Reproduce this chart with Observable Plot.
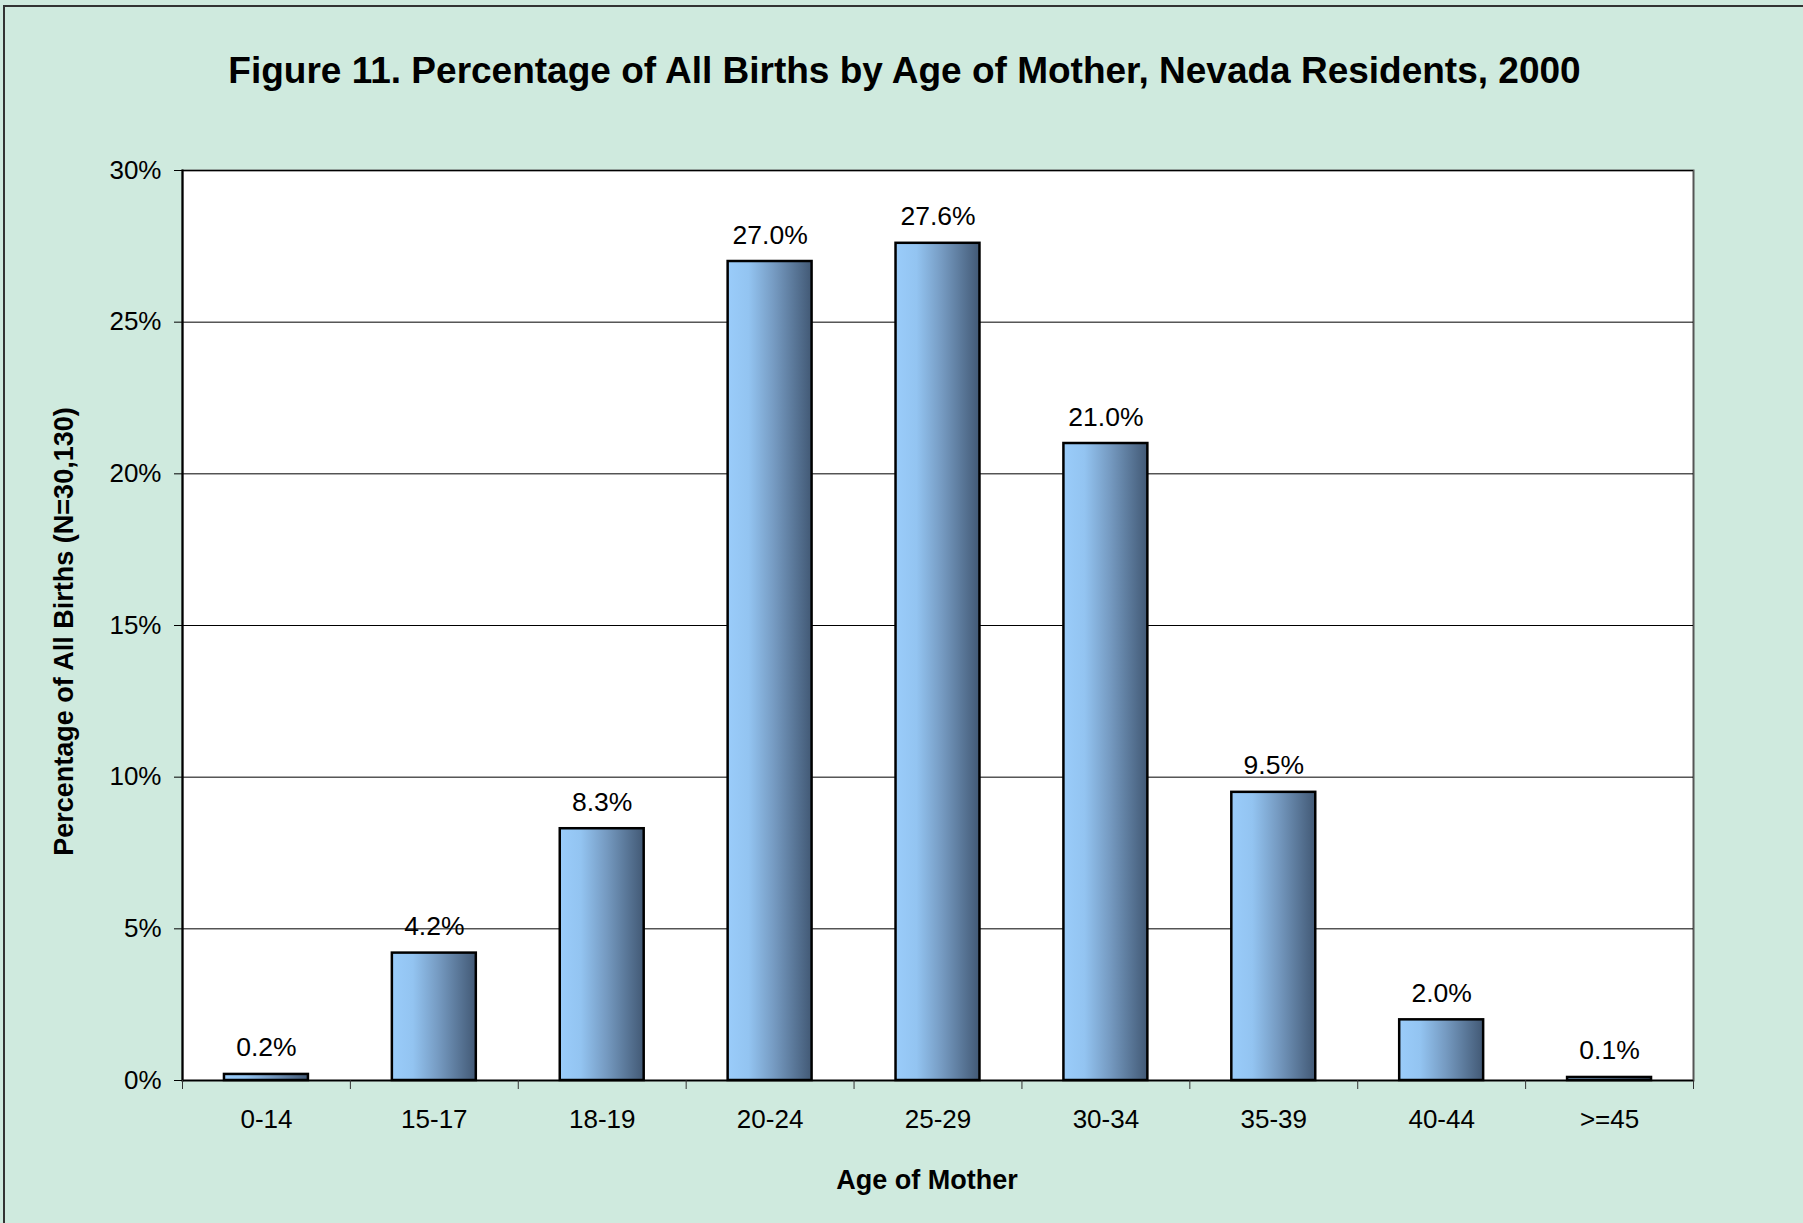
<!DOCTYPE html>
<html>
<head>
<meta charset="utf-8">
<script src="https://cdn.jsdelivr.net/npm/d3@7"></script>
<script src="https://cdn.jsdelivr.net/npm/@observablehq/plot@0.6"></script>
<style>
  html, body { margin: 0; padding: 0; background: #CFEADE; overflow: hidden; width: 1803px; height: 1223px; }
  #border { position: absolute; left: 3px; top: 5px; width: 1900px; height: 1400px; border-left: 2px solid #333; border-top: 2px solid #333; }
  #title { position: absolute; left: 3px; top: 50px; width: 1803px; text-align: center;
           font: bold 37px "Liberation Sans", Arial, sans-serif; color: #000; line-height: normal; }
  #chart { position: absolute; left: 0; top: 140px; }
</style>
</head>
<body>
<div id="border"></div>
<div id="title">Figure 11. Percentage of All Births by Age of Mother, Nevada Residents, 2000</div>
<div id="chart"></div>
<script>
const ageGroups = ["0-14", "15-17", "18-19", "20-24", "25-29", "30-34", "35-39", "40-44", ">=45"];
const percents = [0.2, 4.2, 8.3, 27.0, 27.6, 21.0, 9.5, 2.0, 0.1];
const yTicks = [0, 5, 10, 15, 20, 25, 30];
const yLabel = "Percentage of All Births (N=30,130)";
const xLabel = "Age of Mother";

const data = ageGroups.map((g, i) => ({group: g, pct: percents[i]}));

const W = 1803, H = 1083, mL = 182, mR = 110, mT = 30, mB = 143;
const step = (W - mL - mR) / ageGroups.length;

const chart = Plot.plot({
  width: W, height: H,
  marginLeft: mL, marginRight: mR, marginTop: mT, marginBottom: mB,
  style: {fontFamily: "'Liberation Sans', Arial, sans-serif", fontSize: "26px", color: "#000", background: "transparent", overflow: "visible"},
  x: {domain: ageGroups, paddingInner: 0.5, paddingOuter: 0.25, round: false, label: null},
  y: {domain: [0, 30], label: null},
  marks: [
    Plot.frame({fill: "white", stroke: "#555", strokeWidth: 2}),
    Plot.gridY(yTicks, {stroke: "#000", strokeOpacity: 1, strokeWidth: 1}),
    Plot.frame({anchor: "left", stroke: "#000", strokeWidth: 2}),
    Plot.ruleY([0], {stroke: "#000", strokeWidth: 1.5}),
    Plot.axisY(yTicks, {tickSize: 8, tickPadding: 13, tickFormat: d => d + "%", fontSize: 26, stroke: "#000"}),
    Plot.axisX(ageGroups, {tickSize: 9, text: null, dx: -step / 2, stroke: "#333"}),
    Plot.axisX([ageGroups[ageGroups.length - 1]], {tickSize: 9, text: null, dx: step / 2, stroke: "#333"}),
    Plot.axisX(ageGroups, {tickSize: 0, tickPadding: 29.5, fontSize: 26}),
    Plot.barY(data, {x: "group", y: "pct", fill: "url(#barGrad)", stroke: "#000", strokeWidth: 2.5}),
    Plot.text(data, {x: "group", y: "pct", text: d => d.pct.toFixed(1) + "%", lineAnchor: "bottom", dy: -18, fontSize: 26.5, fill: "#000"}),
    Plot.text([yLabel], {frameAnchor: "left", textAnchor: "middle", rotate: -90, dx: -118, dy: 6, fontSize: 27, fontWeight: "bold", fill: "#000"}),
    Plot.text([xLabel], {frameAnchor: "bottom", textAnchor: "middle", dy: 108, dx: -11, fontSize: 27, fontWeight: "bold", fill: "#000"})
  ]
});

const defs = d3.select(chart).insert("defs", ":first-child");
const grad = defs.append("linearGradient").attr("id", "barGrad")
  .attr("x1", "0%").attr("x2", "100%").attr("y1", "0%").attr("y2", "0%");
[["0%", "#9ACCFA"], ["25%", "#93C4F1"], ["55%", "#769BC2"], ["100%", "#425975"]]
  .forEach(([o, c]) => grad.append("stop").attr("offset", o).attr("stop-color", c));

document.getElementById("chart").appendChild(chart);
</script>
</body>
</html>
